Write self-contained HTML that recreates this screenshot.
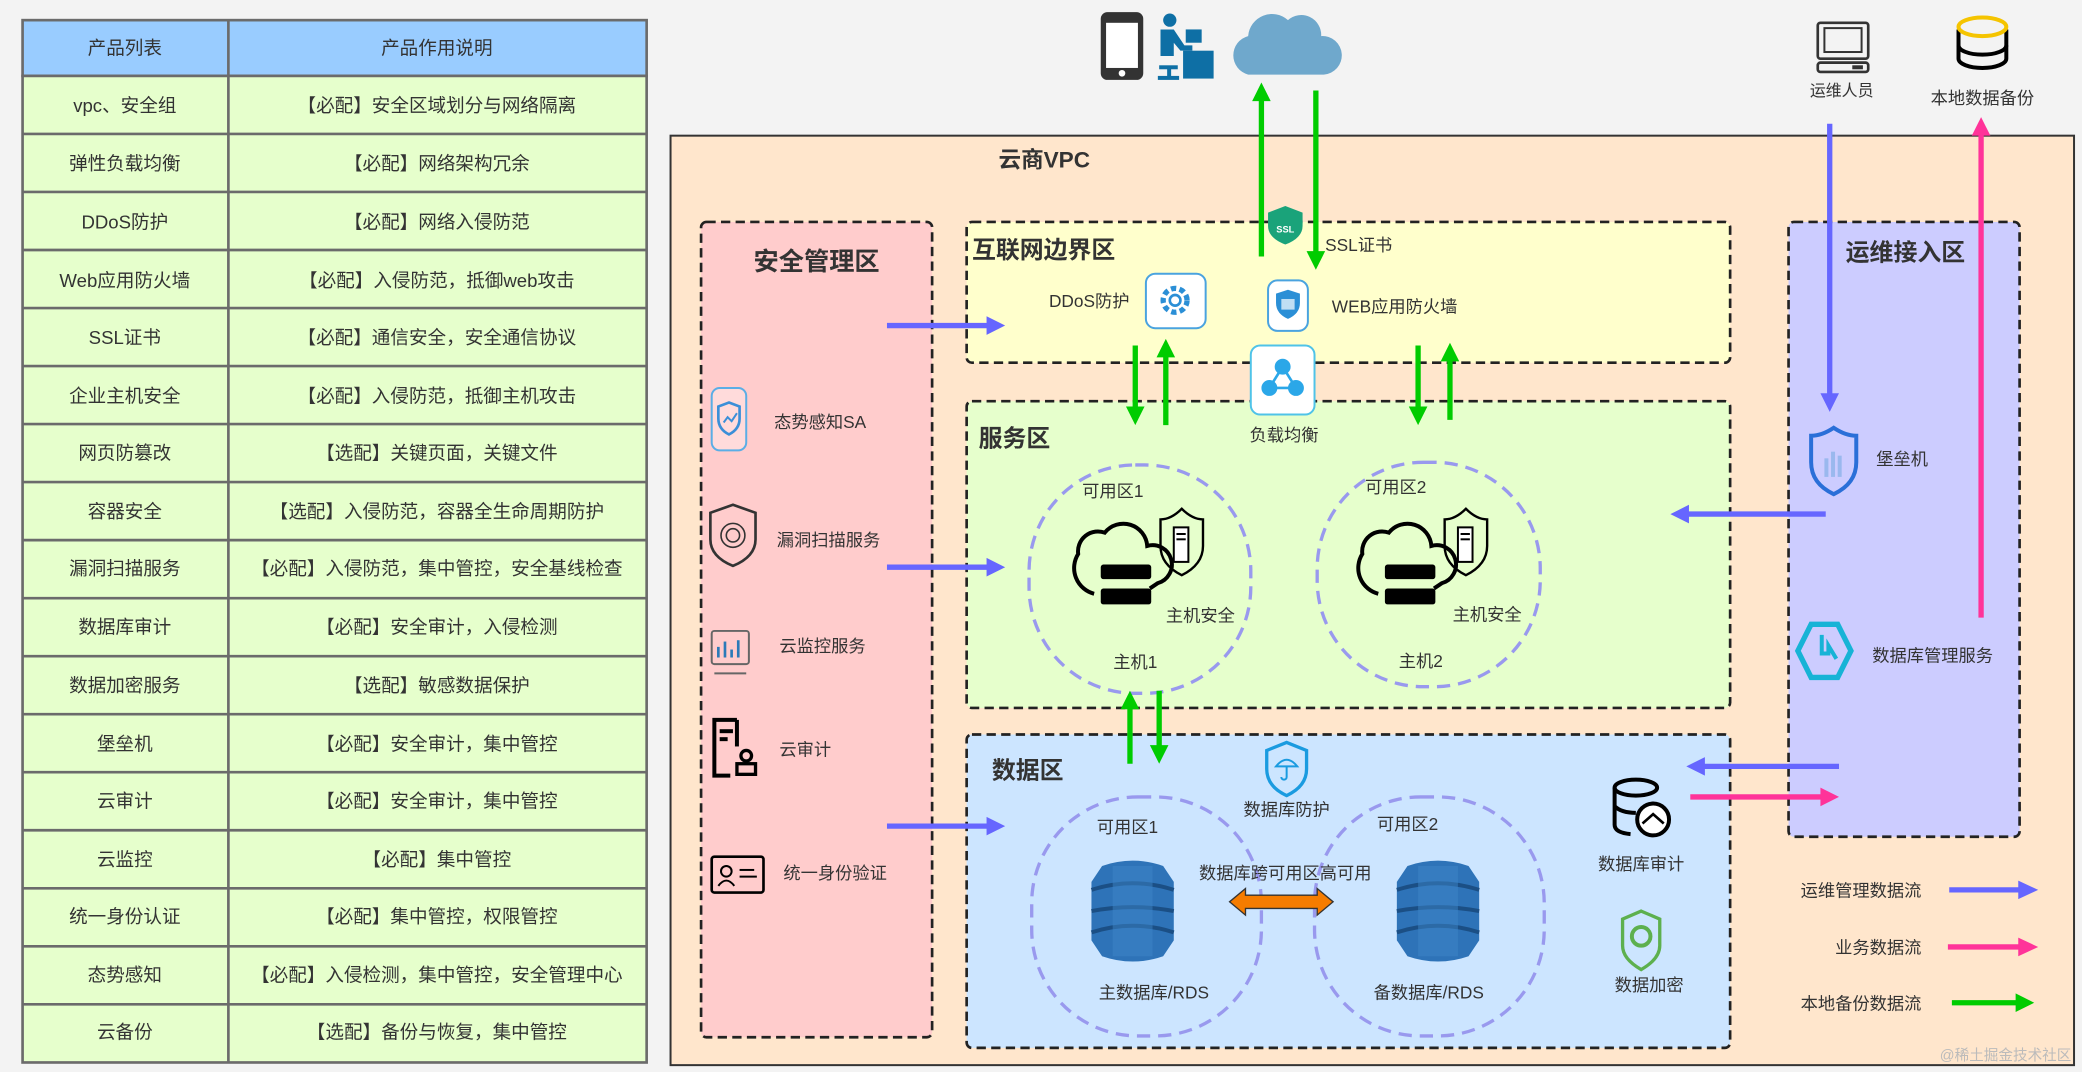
<!DOCTYPE html>
<html><head><meta charset="utf-8"><style>
html,body{margin:0;padding:0;background:#f3f3f3;}
svg{display:block;}
text{font-family:"Liberation Sans","Noto Sans CJK SC",sans-serif;fill:#333;}
</style></head><body>
<svg width="2082" height="1072" viewBox="0 0 1568 807" xmlns="http://www.w3.org/2000/svg">
<rect width="1568" height="807" fill="#f3f3f3"/>
<!-- table -->
<g stroke="#6b6b6b" stroke-width="2">
<rect x="17" y="15" width="470" height="42" fill="#99ccff"/>
<rect x="17" y="57" width="470" height="743" fill="#e6ffcc"/>
<line x1="172" y1="15" x2="172" y2="800"/>
<line x1="17" y1="100.7" x2="487" y2="100.7"/><line x1="17" y1="144.4" x2="487" y2="144.4"/>
<line x1="17" y1="188.1" x2="487" y2="188.1"/><line x1="17" y1="231.8" x2="487" y2="231.8"/>
<line x1="17" y1="275.5" x2="487" y2="275.5"/><line x1="17" y1="319.2" x2="487" y2="319.2"/>
<line x1="17" y1="362.9" x2="487" y2="362.9"/><line x1="17" y1="406.6" x2="487" y2="406.6"/>
<line x1="17" y1="450.3" x2="487" y2="450.3"/><line x1="17" y1="494" x2="487" y2="494"/>
<line x1="17" y1="537.7" x2="487" y2="537.7"/><line x1="17" y1="581.4" x2="487" y2="581.4"/>
<line x1="17" y1="625.1" x2="487" y2="625.1"/><line x1="17" y1="668.8" x2="487" y2="668.8"/>
<line x1="17" y1="712.5" x2="487" y2="712.5"/><line x1="17" y1="756.2" x2="487" y2="756.2"/>
</g>
<g font-size="14" text-anchor="middle">
<text x="94" y="41">产品列表</text><text x="329" y="41">产品作用说明</text>
<text x="94" y="84">vpc、安全组</text><text x="329" y="84">【必配】安全区域划分与网络隔离</text>
<text x="94" y="128">弹性负载均衡</text><text x="329" y="128">【必配】网络架构冗余</text>
<text x="94" y="172">DDoS防护</text><text x="329" y="172">【必配】网络入侵防范</text>
<text x="94" y="216">Web应用防火墙</text><text x="329" y="216">【必配】入侵防范，抵御web攻击</text>
<text x="94" y="259">SSL证书</text><text x="329" y="259">【必配】通信安全，安全通信协议</text>
<text x="94" y="303">企业主机安全</text><text x="329" y="303">【必配】入侵防范，抵御主机攻击</text>
<text x="94" y="346">网页防篡改</text><text x="329" y="346">【选配】关键页面，关键文件</text>
<text x="94" y="390">容器安全</text><text x="329" y="390">【选配】入侵防范，容器全生命周期防护</text>
<text x="94" y="433">漏洞扫描服务</text><text x="329" y="433">【必配】入侵防范，集中管控，安全基线检查</text>
<text x="94" y="477">数据库审计</text><text x="329" y="477">【必配】安全审计，入侵检测</text>
<text x="94" y="521">数据加密服务</text><text x="329" y="521">【选配】敏感数据保护</text>
<text x="94" y="565">堡垒机</text><text x="329" y="565">【必配】安全审计，集中管控</text>
<text x="94" y="608">云审计</text><text x="329" y="608">【必配】安全审计，集中管控</text>
<text x="94" y="652">云监控</text><text x="329" y="652">【必配】集中管控</text>
<text x="94" y="695">统一身份认证</text><text x="329" y="695">【必配】集中管控，权限管控</text>
<text x="94" y="739">态势感知</text><text x="329" y="739">【必配】入侵检测，集中管控，安全管理中心</text>
<text x="94" y="782">云备份</text><text x="329" y="782">【选配】备份与恢复，集中管控</text>
</g>

<!-- VPC -->
<rect x="505" y="102" width="1057" height="700" fill="#ffe6cc" stroke="#333" stroke-width="1.5"/>
<text x="752" y="126" font-size="17" font-weight="bold">云商VPC</text>

<g stroke="#222" stroke-width="2" stroke-dasharray="7,4">
<rect x="528" y="167" width="174" height="614" rx="4" fill="#ffcccc"/>
<rect x="728" y="167" width="575" height="106" rx="4" fill="#ffffcc"/>
<rect x="728" y="302" width="575" height="231" rx="4" fill="#e6ffcc"/>
<rect x="728" y="553" width="575" height="236" rx="4" fill="#cce5ff"/>
<rect x="1347" y="167" width="174" height="463" rx="4" fill="#ccccff"/>
</g>
<text x="615" y="203" font-size="19" font-weight="bold" text-anchor="middle">安全管理区</text>
<text x="732" y="194" font-size="18" font-weight="bold">互联网边界区</text>
<text x="737" y="336" font-size="18" font-weight="bold">服务区</text>
<text x="747" y="586" font-size="18" font-weight="bold">数据区</text>
<text x="1435" y="196" font-size="18" font-weight="bold" text-anchor="middle">运维接入区</text>

<!-- availability zones -->
<g fill="none" stroke="#9999ee" stroke-width="2.5" stroke-dasharray="10,6">
<rect x="775" y="350" width="167" height="172" rx="80"/>
<rect x="992" y="348" width="168" height="169" rx="80"/>
<rect x="777" y="600" width="173" height="180" rx="80"/>
<rect x="990" y="600" width="173" height="180" rx="80"/>
</g>

<!-- top icons -->
<rect x="829" y="9" width="32" height="51" rx="5" fill="#333"/>
<rect x="833" y="17" width="24" height="34" fill="#fff"/>
<circle cx="845" cy="55" r="2.5" fill="#fff"/>
<g fill="#0e6fa5">
<circle cx="881" cy="15" r="5"/>
<path d="M874 22 h10 l8 12 h6 v4 h-9 l-5 -6 v10 h-10 z"/>
<rect x="893" y="22" width="12" height="10"/>
<rect x="891" y="38" width="23" height="21"/>
<rect x="873" y="49" width="14" height="3"/><rect x="879" y="50" width="3" height="8"/><rect x="872" y="57" width="16" height="3"/>
</g>
<path d="M940 56 a15 15 0 0 1 0 -29 a18 18 0 0 1 30 -12 a15 15 0 0 1 25 12 a14 14 0 0 1 2 29 z" fill="#6fa8cc"/>

<rect x="1369" y="17" width="38" height="27" rx="2" fill="none" stroke="#333" stroke-width="2"/>
<rect x="1374" y="21" width="28" height="18" fill="none" stroke="#333" stroke-width="1.5"/>
<rect x="1369" y="47" width="38" height="7" rx="2" fill="none" stroke="#333" stroke-width="2"/>
<rect x="1395" y="49" width="8" height="3" fill="#333"/>
<text x="1387" y="72" font-size="12" text-anchor="middle">运维人员</text>
<path d="M1475 22 v22 a18 7 0 0 0 36 0 v-22" fill="none" stroke="#000" stroke-width="3"/>
<path d="M1475 34 a18 7 0 0 0 36 0" fill="none" stroke="#000" stroke-width="3"/>
<ellipse cx="1493" cy="20" rx="18" ry="7" fill="none" stroke="#f5c400" stroke-width="3"/>
<text x="1493" y="78" font-size="13" text-anchor="middle">本地数据备份</text>

<!-- boundary icons -->
<path d="M968 155 l13 5 v10 q0 9 -13 14 q-13 -5 -13 -14 v-10 z" fill="#1aa37a"/>
<text x="968" y="175" font-size="7" fill="#fff" text-anchor="middle" style="fill:#fff" font-weight="bold">SSL</text>
<text x="998" y="189" font-size="13">SSL证书</text>
<text x="790" y="231" font-size="13">DDoS防护</text>
<rect x="863" y="206" width="45" height="41" rx="7" fill="#fff" stroke="#4aa3df" stroke-width="1.5"/>
<circle cx="885" cy="226" r="9" fill="none" stroke="#2b8fd6" stroke-width="4" stroke-dasharray="4,2.5"/>
<circle cx="885" cy="226" r="4" fill="none" stroke="#2b8fd6" stroke-width="2"/>
<rect x="955" y="211" width="30" height="38" rx="7" fill="#fff" stroke="#4aa3df" stroke-width="1.5"/>
<path d="M970 218 l9 3 v7 q0 8 -9 12 q-9 -4 -9 -12 v-7 z" fill="#2b8fd6"/>
<rect x="965" y="225" width="10" height="8" fill="#fff" opacity=".7"/>
<text x="1003" y="235" font-size="13">WEB应用防火墙</text>
<rect x="942" y="260" width="48" height="52" rx="7" fill="#fff" stroke="#4fc3e8" stroke-width="1.5"/>
<g fill="#2ba7e8" stroke="#2ba7e8" stroke-width="2"><circle cx="966" cy="276" r="5"/><circle cx="956" cy="292" r="5"/><circle cx="976" cy="292" r="5"/><line x1="966" y1="276" x2="956" y2="292"/><line x1="966" y1="276" x2="976" y2="292"/><line x1="956" y1="292" x2="976" y2="292"/></g>
<text x="967" y="332" font-size="13" text-anchor="middle">负载均衡</text>

<!-- security mgmt icons -->
<rect x="536" y="292" width="26" height="47" rx="6" fill="#fff" fill-opacity=".3" stroke="#5aaee6" stroke-width="1.5"/>
<path d="M549 303 l8 3 v9 q0 8 -8 12 q-8 -4 -8 -12 v-9 z" fill="none" stroke="#3b8fd8" stroke-width="2"/>
<path d="M545 318 l3 -4 l3 3 l4 -6" fill="none" stroke="#3b8fd8" stroke-width="1.5"/>
<text x="583" y="322" font-size="13">态势感知SA</text>
<path d="M552 380 l17 6 v20 q0 13 -17 20 q-17 -7 -17 -20 v-20 z" fill="none" stroke="#333" stroke-width="2"/>
<circle cx="552" cy="403" r="9" fill="none" stroke="#333" stroke-width="1.2"/><circle cx="552" cy="403" r="5" fill="none" stroke="#333" stroke-width="1.2"/>
<text x="585" y="411" font-size="13">漏洞扫描服务</text>
<rect x="536" y="475" width="28" height="25" rx="2" fill="none" stroke="#666" stroke-width="1.5"/>
<line x1="538" y1="507" x2="562" y2="507" stroke="#666" stroke-width="1.5"/>
<g stroke="#2b7ab8" stroke-width="2"><line x1="541" y1="495" x2="541" y2="487"/><line x1="546" y1="495" x2="546" y2="483"/><line x1="551" y1="495" x2="551" y2="489"/><line x1="556" y1="495" x2="556" y2="482"/></g>
<text x="587" y="491" font-size="13">云监控服务</text>
<path d="M555 542 h-17 v42 h12" fill="none" stroke="#000" stroke-width="3"/><line x1="555" y1="542" x2="555" y2="562" stroke="#000" stroke-width="3"/>
<rect x="542" y="549" width="10" height="3" fill="#000"/><rect x="542" y="555" width="6" height="3" fill="#000"/>
<circle cx="562" cy="569" r="4" fill="none" stroke="#000" stroke-width="2.5"/><rect x="555" y="575" width="14" height="8" fill="none" stroke="#000" stroke-width="2.5"/>
<text x="587" y="569" font-size="13">云审计</text>
<rect x="536" y="645" width="39" height="27" rx="2" fill="none" stroke="#000" stroke-width="2"/>
<circle cx="547" cy="656" r="4" fill="none" stroke="#000" stroke-width="1.5"/><path d="M541 667 q6 -8 12 0" fill="none" stroke="#000" stroke-width="1.5"/>
<line x1="557" y1="655" x2="568" y2="655" stroke="#000" stroke-width="1.5"/><line x1="557" y1="660" x2="570" y2="660" stroke="#000" stroke-width="1.5"/>
<text x="590" y="662" font-size="13">统一身份验证</text>

<!-- hosts -->
<g id="host">
<path d="M824 447 a20 20 0 0 1 -12 -30 a15 15 0 0 1 20 -16 a18 18 0 0 1 32 10 a14 14 0 0 1 8 28 l-6 4" fill="none" stroke="#000" stroke-width="3"/>
<rect x="829" y="425" width="38" height="11" rx="2" fill="#000"/>
<rect x="829" y="443" width="38" height="12" rx="2" fill="#000"/>
<path d="M890 383 q8 8 16 8 v20 q0 14 -16 22 q-16 -8 -16 -22 v-20 q8 0 16 -8 z" fill="none" stroke="#000" stroke-width="1.8"/>
<rect x="884" y="397" width="11" height="26" fill="#fff" stroke="#000" stroke-width="1.5"/>
<line x1="886" y1="402" x2="893" y2="402" stroke="#000" stroke-width="1.5"/><line x1="886" y1="406" x2="893" y2="406" stroke="#000" stroke-width="1.5"/>
</g>
<use href="#host" x="214" y="0"/>
<text x="815" y="374" font-size="13">可用区1</text>
<text x="878" y="468" font-size="13">主机安全</text>
<text x="855" y="503" font-size="13" text-anchor="middle">主机1</text>
<text x="1028" y="371" font-size="13">可用区2</text>
<text x="1094" y="467" font-size="13">主机安全</text>
<text x="1070" y="502" font-size="13" text-anchor="middle">主机2</text>

<!-- ops icons -->
<path d="M1381 322 q9 6 17 6 v20 q0 16 -17 24 q-17 -8 -17 -24 v-20 q8 0 17 -6 z" fill="none" stroke="#2a6fd8" stroke-width="3"/>
<g fill="#9ab8ee"><rect x="1374" y="345" width="3" height="14"/><rect x="1379" y="340" width="3" height="19"/><rect x="1384" y="343" width="3" height="16"/></g>
<text x="1413" y="350" font-size="13">堡垒机</text>
<path d="M1364 470 h20 l10 20 l-10 20 h-20 l-10 -20 z" fill="none" stroke="#17b3d6" stroke-width="4"/>
<path d="M1372 478 v14 h5 v-6 l6 10" fill="none" stroke="#17b3d6" stroke-width="3"/>
<text x="1410" y="498" font-size="13">数据库管理服务</text>

<!-- data zone -->
<path d="M969 559 l15 6 v14 q0 13 -15 20 q-15 -7 -15 -20 v-14 z" fill="none" stroke="#1a9be0" stroke-width="2.5"/>
<path d="M961 577 q8 -10 16 0 z M969 577 v8 a2 2 0 0 1 -4 0" fill="none" stroke="#1a9be0" stroke-width="1.5"/>
<text x="969" y="614" font-size="13" text-anchor="middle">数据库防护</text>
<text x="826" y="627" font-size="13">可用区1</text>
<text x="1037" y="625" font-size="13">可用区2</text>
<g id="db">
<path d="M830 652 q23 -8 46 0 l8 12 v44 l-8 12 q-23 8 -46 0 l-8 -12 v-44 z" fill="#2e73b8"/>
<path d="M822 670 q31 -10 62 0 M822 686 q31 -6 62 0 M822 702 q31 -10 62 0" fill="none" stroke="#1b4f85" stroke-width="3"/>
<rect x="838" y="652" width="30" height="68" fill="#3d86c8" opacity=".5"/>
</g>
<use href="#db" x="230" y="0"/>
<text x="968" y="662" font-size="13" text-anchor="middle">数据库跨可用区高可用</text>
<path d="M926 679 l12 -10 v5 h54 v-5 l12 10 l-12 10 v-5 h-54 v5 z" fill="#f57c00" stroke="#333" stroke-width="1"/>
<text x="869" y="752" font-size="13" text-anchor="middle">主数据库/RDS</text>
<text x="1076" y="752" font-size="13" text-anchor="middle">备数据库/RDS</text>
<ellipse cx="1232" cy="593" rx="16" ry="6" fill="none" stroke="#000" stroke-width="3"/>
<path d="M1216 593 v28 q0 6 12 7 M1216 607 q5 5 16 5" fill="none" stroke="#000" stroke-width="3"/>
<circle cx="1245" cy="617" r="12" fill="#fff" stroke="#000" stroke-width="3"/>
<path d="M1237 620 l8 -7 l8 7" fill="none" stroke="#000" stroke-width="2"/>
<text x="1236" y="655" font-size="13" text-anchor="middle">数据库审计</text>
<path d="M1236 686 l14 6 v20 q0 10 -14 18 q-14 -8 -14 -18 v-20 z" fill="none" stroke="#5db04e" stroke-width="2.5"/>
<circle cx="1236" cy="705" r="7" fill="none" stroke="#5db04e" stroke-width="3"/>
<text x="1242" y="746" font-size="13" text-anchor="middle">数据加密</text>

<!-- arrows -->
<g stroke-width="4" fill="none">
<g stroke="#6666ff"><line x1="668" y1="245" x2="745" y2="245"/><line x1="668" y1="427" x2="745" y2="427"/><line x1="668" y1="622" x2="745" y2="622"/>
<line x1="1375" y1="387" x2="1270" y2="387"/><line x1="1385" y1="577" x2="1282" y2="577"/><line x1="1378" y1="93" x2="1378" y2="298"/>
<line x1="1468" y1="670" x2="1522" y2="670"/></g>
<g stroke="#ff3399"><line x1="1273" y1="600" x2="1373" y2="600"/><line x1="1492" y1="465" x2="1492" y2="100"/><line x1="1467" y1="713" x2="1522" y2="713"/></g>
<g stroke="#00cc00"><line x1="950" y1="193" x2="950" y2="74"/><line x1="991" y1="68" x2="991" y2="191"/>
<line x1="855" y1="260" x2="855" y2="308"/><line x1="878" y1="320" x2="878" y2="267"/>
<line x1="1068" y1="260" x2="1068" y2="308"/><line x1="1092" y1="316" x2="1092" y2="270"/>
<line x1="851" y1="575" x2="851" y2="532"/><line x1="873" y1="520" x2="873" y2="563"/>
<line x1="1470" y1="755" x2="1520" y2="755"/></g>
</g>
<g fill="#6666ff">
<polygon points="743,238 757,245 743,252"/><polygon points="743,420 757,427 743,434"/><polygon points="743,615 757,622 743,629"/>
<polygon points="1272,380 1258,387 1272,394"/><polygon points="1284,570 1270,577 1284,584"/><polygon points="1371,296 1378,310 1385,296"/>
<polygon points="1520,663 1535,670 1520,677"/>
</g>
<g fill="#ff3399">
<polygon points="1371,593 1385,600 1371,607"/><polygon points="1485,102 1492,88 1499,102"/><polygon points="1520,706 1535,713 1520,720"/>
</g>
<g fill="#00cc00">
<polygon points="943,76 950,62 957,76"/><polygon points="984,189 991,203 998,189"/>
<polygon points="848,306 855,320 862,306"/><polygon points="871,269 878,255 885,269"/>
<polygon points="1061,306 1068,320 1075,306"/><polygon points="1085,272 1092,258 1099,272"/>
<polygon points="844,534 851,520 858,534"/><polygon points="866,561 873,575 880,561"/>
<polygon points="1518,748 1532,755 1518,762"/>
</g>
<text x="1447" y="675" font-size="13" text-anchor="end">运维管理数据流</text>
<text x="1447" y="718" font-size="13" text-anchor="end">业务数据流</text>
<text x="1447" y="760" font-size="13" text-anchor="end">本地备份数据流</text>
<text x="1560" y="798" font-size="11" text-anchor="end" style="fill:#bbb">@稀土掘金技术社区</text>
</svg>
</body></html>
